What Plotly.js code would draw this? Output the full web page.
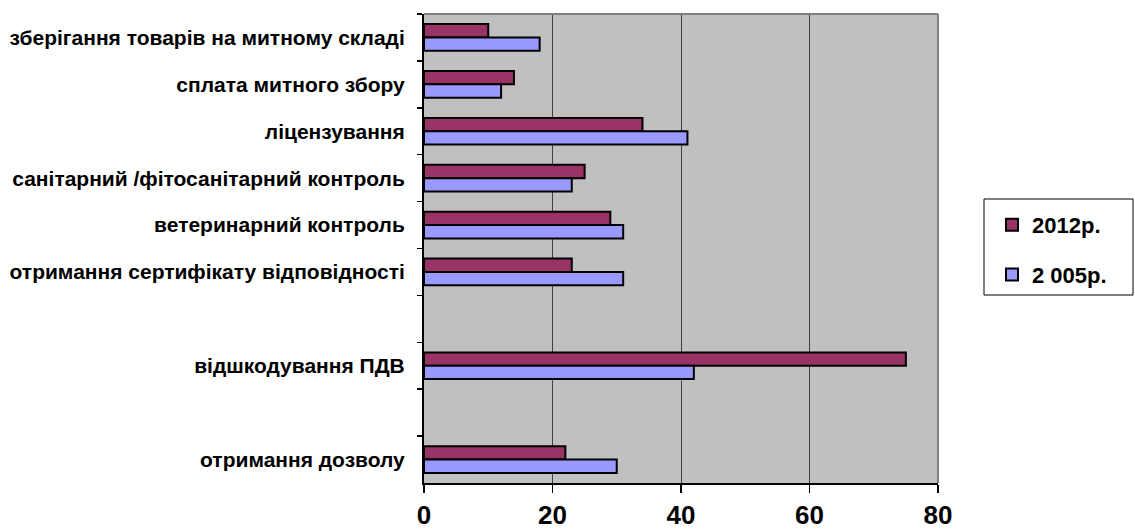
<!DOCTYPE html>
<html>
<head>
<meta charset="utf-8">
<script src="https://cdn.plot.ly/plotly-3.0.1.min.js"></script>
<style>
  html, body { margin: 0; padding: 0; background: #ffffff; }
  #chart { width: 1135px; height: 529px; }
</style>
</head>
<body>
<div id="chart"></div>
<script>
// Procedures (top to bottom); the blank slots keep the empty rows of the chart.
const categories = [
  'зберігання товарів на митному складі',
  'сплата митного збору',
  'ліцензування',
  'санітарний /фітосанітарний контроль',
  'ветеринарний контроль',
  'отримання сертифікату відповідності',
  ' ',
  'відшкодування ПДВ',
  '  ',
  'отримання дозволу'
];
const seriesNames = ['2012р.', '2 005р.'];
const values2012 = [10, 14, 34, 25, 29, 23, null, 75, null, 22];
const values2005 = [18, 12, 41, 23, 31, 31, null, 42, null, 30];
const xTickValues = [0, 20, 40, 60, 80];

const FONT = '"Liberation Sans", Arial, sans-serif';

const traces = [
  {
    type: 'bar', orientation: 'h', name: seriesNames[0], legendgroup: 'a',
    y: categories, x: values2012,
    marker: { color: '#993366', line: { color: '#000000', width: 2 } },
    hoverinfo: 'x+y'
  },
  {
    type: 'bar', orientation: 'h', name: seriesNames[1], legendgroup: 'b',
    y: categories, x: values2005,
    marker: { color: '#9999FF', line: { color: '#000000', width: 2 } },
    hoverinfo: 'x+y'
  }
];

const W = 1135, H = 529;
const L = 424, R = W - 938, T = 14, B = H - 483;
const pw = W - L - R, ph = H - T - B;
const px = v => (v - L) / pw;          // pixel -> paper x
const py = v => (H - B - v) / ph;      // pixel -> paper y

const layout = {
  width: W, height: H,
  margin: { l: L, r: R, t: T, b: B, pad: 0 },
  paper_bgcolor: '#ffffff',
  plot_bgcolor: '#C0C0C0',
  font: { family: FONT, color: '#000000' },
  barmode: 'group',
  bargap: 0.43,
  bargroupgap: 0,
  showlegend: true,
  legend: {
    x: px(992), xanchor: 'left',
    y: py(204), yanchor: 'top',
    bgcolor: 'rgba(0,0,0,0)',
    borderwidth: 0,
    traceorder: 'grouped',
    tracegroupgap: 18,
    font: { family: FONT, size: 22, weight: 700, color: '#000000' }
  },
  xaxis: {
    range: [0, 80],
    tickmode: 'array', tickvals: xTickValues,
    showgrid: true, gridcolor: '#404040', gridwidth: 1,
    zeroline: false,
    showline: true, linecolor: '#000000', linewidth: 1.5,
    ticks: 'outside', ticklen: 8, tickwidth: 1.5, tickcolor: '#000000',
    tickfont: { family: FONT, size: 26, weight: 700, color: '#000000' },
    fixedrange: true
  },
  yaxis: {
    type: 'category',
    categoryorder: 'array', categoryarray: categories,
    autorange: 'reversed',
    tickson: 'boundaries',
    showgrid: false, zeroline: false,
    showline: true, linecolor: '#000000', linewidth: 2,
    ticks: 'outside', ticklen: 5, tickwidth: 1.5, tickcolor: '#000000',
    ticklabelstandoff: 13,
    tickfont: { family: FONT, size: 21, weight: 700, color: '#000000' },
    fixedrange: true
  },
  shapes: [
    // grey frame on the top and right of the plot area
    { type: 'line', xref: 'paper', yref: 'paper', x0: 0, x1: 1, y0: 1, y1: 1,
      line: { color: '#808080', width: 2 } },
    { type: 'line', xref: 'paper', yref: 'paper', x0: 1, x1: 1, y0: 0, y1: 1,
      line: { color: '#808080', width: 2 } },
    // legend frame
    { type: 'rect', xref: 'paper', yref: 'paper',
      x0: px(984), x1: px(1133), y0: py(295), y1: py(199),
      line: { color: '#000000', width: 1 }, fillcolor: 'rgba(0,0,0,0)' }
  ]
};

Plotly.newPlot('chart', traces, layout, { displayModeBar: false, staticPlot: true });
</script>
</body>
</html>
